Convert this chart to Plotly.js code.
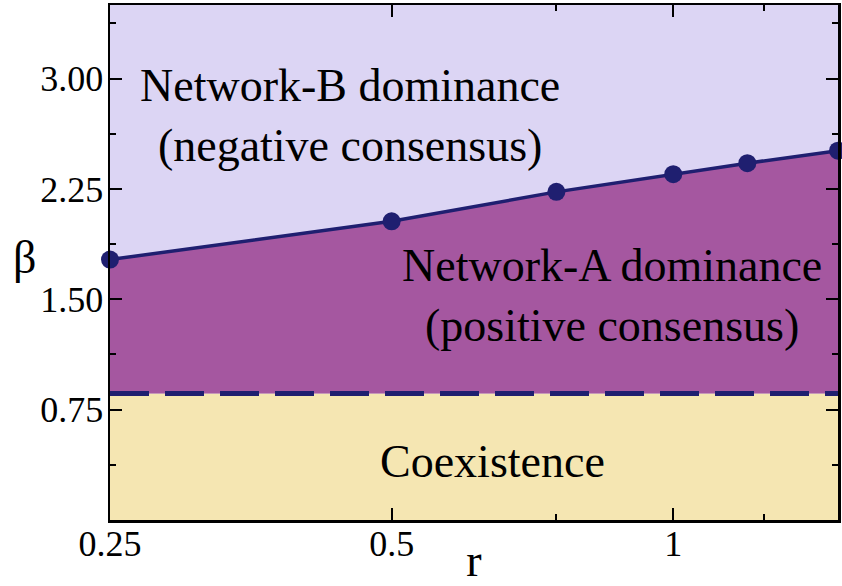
<!DOCTYPE html>
<html>
<head>
<meta charset="utf-8">
<script src="https://cdn.plot.ly/plotly-3.0.1.min.js"></script>
<style>html,body{margin:0;padding:0;background:#fff;}#chart{width:842px;height:586px;}</style>
</head>
<body>
<div id="chart"></div>
<script>
// Data
const rBoundary = [0.25, 0.5, 0.75, 1.0, 1.2, 1.5];
const betaBoundary = [1.77, 2.03, 2.23, 2.35, 2.425, 2.51];
const rCoexEdge = [0.25, 1.5];
const betaCoexEdge = [0.86, 0.86];
const xTickVals = [0.25, 0.5, 1];
const xTickText = ['0.25', '0.5', '1'];
const xMinorVals = [0.75, 1.25];
const yTickVals = [0.75, 1.5, 2.25, 3.0];
const yTickText = ['0.75', '1.50', '2.25', '3.00'];
const yMinorVals = [0.375, 1.125, 1.875, 2.625, 3.375];

const lavender = '#dcd5f4';
const purple = '#a557a0';
const wheat = '#f5e6b2';
const navy = '#1f1f70';
const serif = '"Liberation Serif", Tinos, "Times New Roman", Times, "DejaVu Serif", serif';

const traces = [
  {x: rCoexEdge, y: betaCoexEdge, mode: 'lines', fill: 'tozeroy', fillcolor: wheat,
   line: {width: 0, color: wheat}, hoverinfo: 'skip', showlegend: false},
  {x: rBoundary, y: betaBoundary, mode: 'lines', fill: 'tonexty', fillcolor: purple,
   line: {width: 0, color: purple}, hoverinfo: 'skip', showlegend: false},
  {x: rCoexEdge, y: betaCoexEdge, mode: 'lines',
   line: {width: 5, color: navy, dash: '39px,16px'}, showlegend: false},
  {x: rBoundary, y: betaBoundary, mode: 'lines+markers',
   line: {width: 3.5, color: navy}, marker: {size: 18, color: navy},
   cliponaxis: false, showlegend: false}
];

const axisCommon = {
  showline: true, linecolor: '#000', linewidth: 2.5, mirror: 'ticks',
  ticks: 'inside', ticklen: 12, tickwidth: 2, tickcolor: '#000',
  showgrid: false, zeroline: false,
  tickfont: {family: serif, size: 36, color: '#000'}
};

const layout = {
  width: 842, height: 586,
  margin: {l: 110, r: 4, t: 5, b: 66},
  paper_bgcolor: '#fff', plot_bgcolor: lavender,
  font: {family: serif, color: '#000'},
  xaxis: Object.assign({}, axisCommon, {
    type: 'log', range: [Math.log10(0.25), Math.log10(1.5)],
    tickmode: 'array', tickvals: xTickVals, ticktext: xTickText,
    ticklabelstandoff: -10,
    minor: {tickmode: 'array', tickvals: xMinorVals, ticks: 'inside', ticklen: 6, tickwidth: 2, tickcolor: '#000', showgrid: false},
    title: {text: 'r', font: {family: serif, size: 46, color: '#000'}, standoff: 16}
  }),
  yaxis: Object.assign({}, axisCommon, {
    range: [0, 3.5],
    tickmode: 'array', tickvals: yTickVals, ticktext: yTickText,
    ticklabelstandoff: -3,
    minor: {tickmode: 'array', tickvals: yMinorVals, ticks: 'inside', ticklen: 6, tickwidth: 2, tickcolor: '#000', showgrid: false}
  }),
  annotations: [
    {xref: 'paper', yref: 'paper', x: -0.118, y: 0.51, showarrow: false,
     xanchor: 'center', yanchor: 'middle',
     text: 'β', font: {family: serif, size: 46, color: '#000'}},
    {xref: 'paper', yref: 'paper', x: 0.33, y: 0.785, showarrow: false,
     xanchor: 'center', yanchor: 'middle',
     text: 'Network-B dominance<br>(negative consensus)', align: 'center',
     font: {family: serif, size: 46, color: '#000'}},
    {xref: 'paper', yref: 'paper', x: 0.69, y: 0.435, showarrow: false,
     xanchor: 'center', yanchor: 'middle',
     text: 'Network-A dominance<br>(positive consensus)', align: 'center',
     font: {family: serif, size: 46, color: '#000'}},
    {xref: 'paper', yref: 'paper', x: 0.525, y: 0.113, showarrow: false,
     xanchor: 'center', yanchor: 'middle',
     text: 'Coexistence', align: 'center',
     font: {family: serif, size: 46, color: '#000'}}
  ]
};

Plotly.newPlot('chart', traces, layout, {staticPlot: true, displayModeBar: false});
</script>
</body>
</html>
